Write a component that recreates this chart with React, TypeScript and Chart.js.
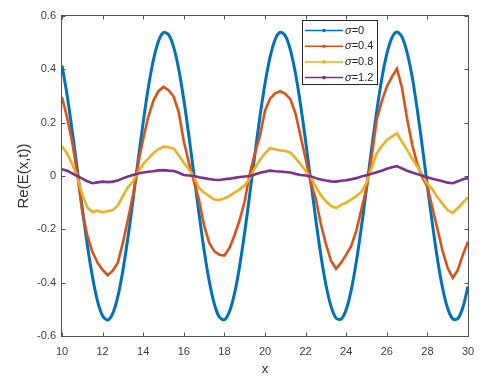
import React, { useEffect, useRef } from 'react';
import { Chart, registerables } from 'chart.js';

Chart.register(...registerables);

const X_VALUES = [
  10, 10.25, 10.5, 10.75, 11, 11.25, 11.5, 11.75, 12, 12.25, 12.5, 12.75,
  13, 13.25, 13.5, 13.75, 14, 14.25, 14.5, 14.75, 15, 15.25, 15.5, 15.75,
  16, 16.25, 16.5, 16.75, 17, 17.25, 17.5, 17.75, 18, 18.25, 18.5, 18.75,
  19, 19.25, 19.5, 19.75, 20, 20.25, 20.5, 20.75, 21, 21.25, 21.5, 21.75,
  22, 22.25, 22.5, 22.75, 23, 23.25, 23.5, 23.75, 24, 24.25, 24.5, 24.75,
  25, 25.25, 25.5, 25.75, 26, 26.25, 26.5, 26.75, 27, 27.25, 27.5, 27.75,
  28, 28.25, 28.5, 28.75, 29, 29.25, 29.5, 29.75, 30,
];

const SIGMA_0 = [
  0.414, 0.304, 0.171, 0.026, -0.121, -0.26, -0.378, -0.469, -0.524, -0.54, -0.515, -0.452,
  -0.354, -0.23, -0.089, 0.059, 0.202, 0.331, 0.434, 0.505, 0.538, 0.53, 0.483, 0.4,
  0.286, 0.151, 0.005, -0.142, -0.278, -0.393, -0.479, -0.529, -0.539, -0.508, -0.44, -0.338,
  -0.211, -0.068, 0.08, 0.222, 0.347, 0.446, 0.512, 0.539, 0.526, 0.473, 0.385, 0.268,
  0.131, -0.016, -0.162, -0.296, -0.408, -0.488, -0.533, -0.537, -0.501, -0.427, -0.321, -0.191,
  -0.047, 0.101, 0.241, 0.363, 0.458, 0.518, 0.54, 0.521, 0.463, 0.372, 0.249, 0.11,
  -0.038, -0.182, -0.314, -0.421, -0.497, -0.536, -0.534, -0.492, -0.414,
];

const SIGMA_04 = [
  0.295, 0.22, 0.128, 0.008, -0.135, -0.225, -0.285, -0.325, -0.352, -0.372, -0.355, -0.325,
  -0.25, -0.162, -0.07, 0.045, 0.14, 0.222, 0.282, 0.318, 0.334, 0.322, 0.298, 0.24,
  0.13, 0.05, -0.02, -0.09, -0.185, -0.25, -0.282, -0.295, -0.298, -0.27, -0.222, -0.165,
  -0.095, 0.008, 0.085, 0.15, 0.245, 0.29, 0.31, 0.318, 0.308, 0.288, 0.235, 0.15,
  0.065, -0.025, -0.085, -0.18, -0.255, -0.318, -0.348, -0.325, -0.295, -0.262, -0.205, -0.125,
  -0.045, 0.07, 0.21, 0.28, 0.335, 0.372, 0.402, 0.33, 0.215, 0.118, 0.045, -0.005,
  -0.04, -0.12, -0.2, -0.282, -0.345, -0.382, -0.352, -0.295, -0.246,
];

const SIGMA_08 = [
  0.112, 0.085, 0.045, -0.002, -0.07, -0.118, -0.135, -0.13, -0.136, -0.132, -0.128, -0.11,
  -0.075, -0.042, -0.02, 0.015, 0.045, 0.065, 0.085, 0.1, 0.11, 0.108, 0.103, 0.078,
  0.05, 0.025, -0.002, -0.045, -0.062, -0.075, -0.088, -0.09, -0.084, -0.075, -0.062, -0.05,
  -0.035, -0.01, 0.03, 0.06, 0.085, 0.104, 0.1, 0.096, 0.094, 0.088, 0.068, 0.045,
  0.02, -0.005, -0.04, -0.072, -0.095, -0.112, -0.12, -0.108, -0.1, -0.088, -0.075, -0.06,
  -0.025, 0.03, 0.085, 0.112, 0.135, 0.148, 0.16, 0.128, 0.098, 0.065, 0.035, 0.005,
  -0.03, -0.05, -0.08, -0.105, -0.128, -0.138, -0.12, -0.1, -0.08,
];

const SIGMA_12 = [
  0.025, 0.02, 0.01, 0.0, -0.01, -0.02, -0.027, -0.024, -0.021, -0.023, -0.021, -0.017,
  -0.009, -0.002, 0.004, 0.009, 0.013, 0.016, 0.018, 0.021, 0.022, 0.02, 0.019, 0.012,
  0.004, 0.002, 0.0, -0.005, -0.008, -0.011, -0.014, -0.015, -0.012, -0.01, -0.007, -0.004,
  -0.002, 0.0, 0.006, 0.012, 0.016, 0.02, 0.018, 0.017, 0.015, 0.013, 0.008, 0.004,
  0.002, -0.001, -0.008, -0.013, -0.017, -0.02, -0.021, -0.018, -0.016, -0.012, -0.008, -0.002,
  0.003, 0.008, 0.014, 0.02, 0.027, 0.033, 0.037, 0.028, 0.02, 0.013, 0.007, 0.001,
  -0.005, -0.01, -0.015, -0.02, -0.025, -0.027, -0.02, -0.012, -0.008,
];

const SIGMA_LABELS = ['0', '0.4', '0.8', '1.2'];
const SERIES_COLORS = ['#0072BD', '#D95319', '#EDB120', '#7E2F8E'];
const X_TICKS = [10, 12, 14, 16, 18, 20, 22, 24, 26, 28, 30];
const Y_TICKS = [-0.6, -0.4, -0.2, 0, 0.2, 0.4, 0.6];
const X_TITLE = 'x';
const Y_TITLE = 'Re(E(x,t))';

const FONT = '"Liberation Sans", Arial, Helvetica, sans-serif';
const AXIS_COLOR = '#555555';
const TEXT_COLOR = '#404040';

const boxPlugin = {
  id: 'matlabBox',
  afterDraw(chart: any) {
    const { ctx, chartArea: a, scales } = chart;
    const xs = scales.x;
    const ys = scales.y;
    ctx.save();
    ctx.strokeStyle = AXIS_COLOR;
    ctx.lineWidth = 1;
    const L = Math.round(a.left) - 0.5;
    const R = Math.round(a.right) + 0.5;
    const T = Math.round(a.top) - 0.5;
    const B = Math.round(a.bottom) + 0.5;
    ctx.strokeRect(L, T, R - L, B - T);
    const tl = 4;
    ctx.beginPath();
    X_TICKS.forEach((v) => {
      const px = Math.round(xs.getPixelForValue(v)) + 0.5;
      ctx.moveTo(px, B);
      ctx.lineTo(px, B - tl);
      ctx.moveTo(px, T);
      ctx.lineTo(px, T + tl);
    });
    Y_TICKS.forEach((v) => {
      const py = Math.round(ys.getPixelForValue(v)) + 0.5;
      ctx.moveTo(L, py);
      ctx.lineTo(L + tl, py);
      ctx.moveTo(R, py);
      ctx.lineTo(R - tl, py);
    });
    ctx.stroke();

    // legend
    const lx = Math.round(a.right) - 166;
    const ly = Math.round(a.top) + 4;
    const lw = 75;
    const lh = 64;
    ctx.fillStyle = '#ffffff';
    ctx.fillRect(lx, ly, lw, lh);
    ctx.strokeStyle = '#262626';
    ctx.lineWidth = 1;
    ctx.strokeRect(lx + 0.5, ly + 0.5, lw, lh);
    chart.data.datasets.forEach((ds: any, i: number) => {
      const y = ly + 10.5 + i * 15.7;
      ctx.strokeStyle = ds.borderColor;
      ctx.lineWidth = 1.5;
      ctx.beginPath();
      ctx.moveTo(lx + 3, y);
      ctx.lineTo(lx + 41, y);
      ctx.stroke();
      ctx.fillStyle = ds.borderColor;
      ctx.beginPath();
      ctx.arc(lx + 22, y, 1.8, 0, Math.PI * 2);
      ctx.fill();
      ctx.fillStyle = '#262626';
      ctx.textBaseline = 'middle';
      ctx.textAlign = 'left';
      ctx.font = 'italic 11px ' + FONT;
      ctx.fillText('σ', lx + 43, y);
      const w = ctx.measureText('σ').width;
      ctx.font = '11px ' + FONT;
      ctx.fillText('=' + SIGMA_LABELS[i], lx + 43 + w, y);
    });
    ctx.restore();
  },
};

export default function App() {
  const ref = useRef<HTMLCanvasElement>(null);
  useEffect(() => {
    const series = [SIGMA_0, SIGMA_04, SIGMA_08, SIGMA_12];
    const chart = new Chart(ref.current as HTMLCanvasElement, {
      type: 'line',
      data: {
        datasets: series.map((vals, i) => ({
          label: 'σ=' + SIGMA_LABELS[i],
          data: X_VALUES.map((x, j) => ({ x, y: vals[j] })),
          borderColor: SERIES_COLORS[i],
          backgroundColor: SERIES_COLORS[i],
          borderWidth: i === 0 ? 3 : 2.6,
          pointRadius: 0,
          tension: i === 0 ? 0.3 : 0,
          fill: false,
          order: 3 - i,
        })),
      },
      options: {
        animation: false,
        responsive: false,
        devicePixelRatio: 1,
        layout: { padding: { top: 16, right: 36, left: 0, bottom: 0 } },
        plugins: { legend: { display: false }, tooltip: { enabled: false } },
        scales: {
          x: {
            type: 'linear',
            min: 10,
            max: 30,
            afterFit: (s: any) => { s.height = 43; },
            afterBuildTicks: (s: any) => { s.ticks = X_TICKS.map((v) => ({ value: v })); },
            grid: { display: false, drawTicks: false },
            border: { display: false },
            ticks: {
              padding: 9,
              color: TEXT_COLOR,
              font: { family: FONT, size: 11 },
              maxRotation: 0,
              callback: (v: any) => String(v),
            },
            title: {
              display: true,
              text: X_TITLE,
              color: '#333333',
              font: { family: FONT, size: 13 },
              padding: { top: 0, bottom: 2 },
            },
          },
          y: {
            type: 'linear',
            min: -0.6,
            max: 0.6,
            afterFit: (s: any) => { s.width = 62; },
            afterBuildTicks: (s: any) => { s.ticks = Y_TICKS.map((v) => ({ value: v })); },
            grid: { display: false, drawTicks: false },
            border: { display: false },
            ticks: {
              padding: 6,
              color: TEXT_COLOR,
              font: { family: FONT, size: 11 },
              callback: (v: any) => String(Number(Number(v).toFixed(1))),
            },
            title: {
              display: true,
              text: Y_TITLE,
              color: '#333333',
              font: { family: FONT, size: 15 },
              padding: { top: 15, bottom: 0 },
            },
          },
        },
      },
      plugins: [boxPlugin],
    } as any);
    return () => chart.destroy();
  }, []);
  return (
    <div style={{ position: 'absolute', left: 0, top: 0, width: 504, height: 379, background: '#fff' }}>
      <canvas ref={ref} width={504} height={379} style={{ display: 'block' }} />
    </div>
  );
}
